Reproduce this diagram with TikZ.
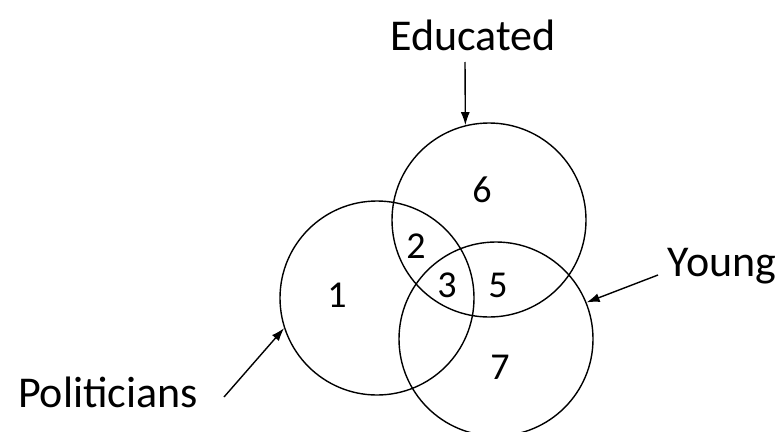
\documentclass[tikz,border=0pt]{standalone}
\usepackage{fontspec}
\setmainfont{Carlito}
\usetikzlibrary{arrows.meta}
\begin{document}
\begin{tikzpicture}[x=1pt,y=-1pt,>={Latex[length=13pt,width=9pt]},line width=1.4pt,
    set/.style={circle,draw,minimum size=194pt,inner sep=0pt},
    lbl/.style={font=\fontsize{44}{50}\selectfont},
    num/.style={font=\fontsize{38}{42}\selectfont}]
  \useasboundingbox (0,0) rectangle (783,431);
  \node (pol) [set] at (377,298) {};
  \node (edu) [set] at (489,220) {};
  \node (yng) [set] at (496,339) {};
  \node (r1) [num] at (337,295) {1};
  \node (r2) [num] at (416,246) {2};
  \node (r3) [num] at (447,285) {3};
  \node (r5) [num] at (498,285) {5};
  \node (r6) [num] at (482,190) {6};
  \node (r7) [num] at (500,367) {7};
  \node (edulbl) [lbl] at (473,35) {Educated};
  \node (ynglbl) [lbl] at (722,266) {Young};
  \node (pollbl) [lbl] at (108,392) {Politicians};
  \coordinate (edutail) at (465,62);
  \coordinate (yngtail) at (658,275);
  \coordinate (poltail) at (224,397);
  \path[->] (edutail) edge (edu.104);
  \path[->] (yngtail) edge (yng.22);
  \path[->] (poltail) edge (pol.198);
\end{tikzpicture}
\end{document}
